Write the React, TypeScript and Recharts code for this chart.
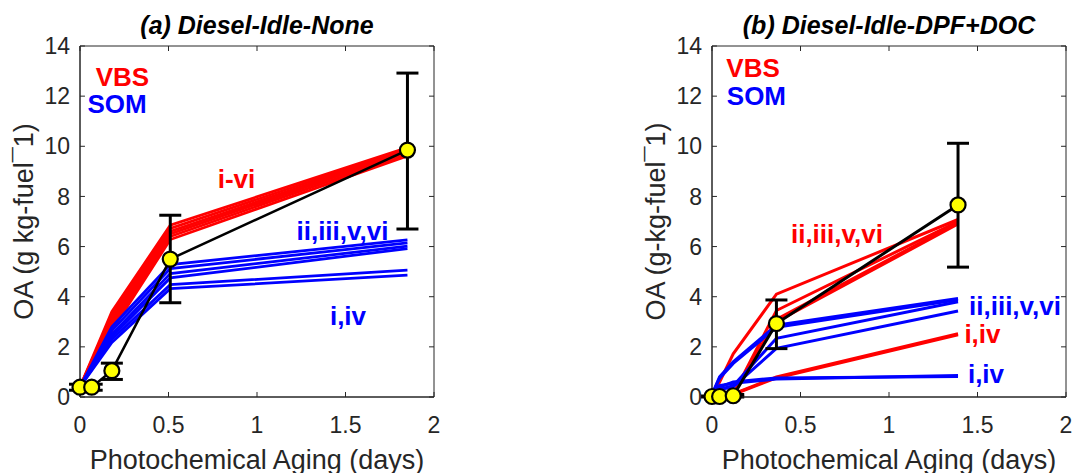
import React from "react";
import { LineChart, Line, XAxis, YAxis, ErrorBar, ReferenceDot, ReferenceArea, ReferenceLine } from "recharts";

// panel (a) Diesel-Idle-None
const modelXA = [0, 0.18, 0.51, 1.85];
const vbsA = [
  [0.4, 3.4, 6.85, 9.95],
  [0.4, 3.25, 6.72, 9.9],
  [0.4, 3.1, 6.6, 9.84],
  [0.4, 2.95, 6.5, 9.78],
  [0.4, 2.8, 6.4, 9.7],
  [0.4, 2.65, 6.28, 9.62],
];
const somA = [
  [0.4, 2.8, 5.28, 6.27],
  [0.4, 2.65, 5.12, 6.15],
  [0.4, 2.5, 4.92, 6.02],
  [0.4, 2.4, 4.75, 5.92],
  [0.4, 2.3, 4.48, 5.06],
  [0.4, 2.18, 4.32, 4.86],
];
const obsXA = [0, 0.066, 0.18, 0.51, 1.85];
const obsYA = [0.39, 0.39, 1.05, 5.5, 9.85];
const obsLoA = [0.27, 0.27, 0.7, 3.76, 6.7];
const obsHiA = [0.51, 0.51, 1.35, 7.25, 12.92];

// panel (b) Diesel-Idle-DPF+DOC
const modelXB = [0, 0.043, 0.12, 0.364, 1.39];
const vbsB = [
  [0.05, 0.6, 1.72, 4.1, 7.08],
  [0.05, 0.06, 0.1, 3.45, 7.0],
  [0.05, 0.06, 0.1, 3.1, 6.95],
  [0.05, 0.06, 0.08, 3.0, 6.9],
  [0.05, 0.06, 0.1, 0.76, 2.48],
  [0.05, 0.06, 0.12, 0.8, 2.52],
];
const somB = [
  [0.1, 0.8, 1.4, 2.86, 3.93],
  [0.1, 0.75, 1.34, 2.78, 3.88],
  [0.1, 0.3, 0.45, 2.34, 3.8],
  [0.1, 0.3, 0.4, 1.94, 3.43],
  [0.1, 0.45, 0.55, 0.72, 0.86],
  [0.1, 0.4, 0.6, 0.76, 0.82],
];
const obsXB = [0, 0.043, 0.12, 0.364, 1.39];
const obsYB = [0.02, 0.02, 0.05, 2.93, 7.66];
const obsLoB = [0.0, 0.0, 0.0, 1.93, 5.18];
const obsHiB = [0.04, 0.04, 0.1, 3.87, 10.12];

const xTicks = [0, 0.5, 1, 1.5, 2];
const yTicks = [0, 2, 4, 6, 8, 10, 12, 14];

const notesA = [
  { text: "VBS", x: 0.24, y: 12.77, color: "#ff0000" },
  { text: "SOM", x: 0.209, y: 11.7, color: "#0000ff" },
  { text: "i-vi", x: 0.884, y: 8.7, color: "#ff0000" },
  { text: "ii,iii,v,vi", x: 1.483, y: 6.63, color: "#0000ff" },
  { text: "i,iv", x: 1.514, y: 3.24, color: "#0000ff" },
];
const notesB = [
  { text: "VBS", x: 0.232, y: 13.13, color: "#ff0000" },
  { text: "SOM", x: 0.251, y: 12.01, color: "#0000ff" },
  { text: "ii,iii,v,vi", x: 0.706, y: 6.51, color: "#ff0000" },
  { text: "ii,iii,v,vi", x: 1.712, y: 3.64, color: "#0000ff" },
  { text: "i,iv", x: 1.528, y: 2.52, color: "#ff0000" },
  { text: "i,iv", x: 1.548, y: 0.93, color: "#0000ff" },
];

const AXIS = "#262626";
const X_MAX = 2;
const Y_MAX = 14;
// inward tick length, in data units (about 5px on each axis)
const TICK_DY = 0.2;
const TICK_DX = 0.028;

const pts = (xs: number[], ys: number[]) => xs.map((x, i) => ({ x, y: ys[i] }));
const obsPts = (xs: number[], ys: number[], lo: number[], hi: number[]) =>
  xs.map((x, i) => ({ x, y: ys[i], err: [ys[i] - lo[i], hi[i] - ys[i]] }));

function YLabel(props: any) {
  const vb = props.viewBox || { x: 0, y: 46, height: 351 };
  const cx = 23.5;
  const cy = vb.y + vb.height / 2;
  return (
    <text
      x={cx}
      y={cy}
      dy="0.36em"
      textAnchor="middle"
      fontSize={27}
      fill={AXIS}
      transform={`rotate(-90 ${cx} ${cy})`}
    >
      {props.text}
    </text>
  );
}

type PanelProps = {
  width: number;
  title: string;
  ylabel: string;
  modelX: number[];
  vbs: number[][];
  som: number[][];
  obs: { x: number; y: number; err: number[] }[];
  notes: { text: string; x: number; y: number; color: string }[];
  lw: number;
  blackW: number;
};

function Panel({ width, title, ylabel, modelX, vbs, som, obs, notes, lw, blackW }: PanelProps) {
  const tickSegs: { x: number; y: number }[][] = [];
  xTicks.forEach((t) => {
    tickSegs.push([{ x: t, y: 0 }, { x: t, y: TICK_DY }]);
    tickSegs.push([{ x: t, y: Y_MAX }, { x: t, y: Y_MAX - TICK_DY }]);
  });
  yTicks.forEach((t) => {
    tickSegs.push([{ x: 0, y: t }, { x: TICK_DX, y: t }]);
    tickSegs.push([{ x: X_MAX, y: t }, { x: X_MAX - TICK_DX, y: t }]);
  });

  return (
    <div style={{ position: "relative", width, height: 473 }}>
      <div
        style={{
          position: "absolute",
          left: 80,
          width: 354,
          top: 10,
          textAlign: "center",
          fontSize: 25,
          fontWeight: "bold",
          fontStyle: "italic",
          color: "#000",
          lineHeight: "30px",
          whiteSpace: "nowrap",
        }}
      >
        {title}
      </div>
      <LineChart width={width} height={473} margin={{ top: 46, right: width - 434, left: 0, bottom: 0 }}>
        <XAxis
          type="number"
          dataKey="x"
          domain={[0, X_MAX]}
          ticks={xTicks}
          height={76}
          stroke={AXIS}
          tickLine={false}
          tickSize={0}
          tickMargin={20}
          tick={{ fill: AXIS, fontSize: 23 }}
          label={{ value: "Photochemical Aging (days)", position: "insideBottom", offset: 4, fill: AXIS, fontSize: 27 }}
        />
        <YAxis
          type="number"
          domain={[0, Y_MAX]}
          ticks={yTicks}
          width={80}
          stroke={AXIS}
          tickLine={false}
          tickSize={0}
          tickMargin={10}
          tick={{ fill: AXIS, fontSize: 23 }}
          label={<YLabel text={ylabel} />}
        />
        <ReferenceArea
          x1={0}
          x2={X_MAX}
          y1={0}
          y2={Y_MAX}
          fill="none"
          fillOpacity={0}
          stroke={AXIS}
          strokeWidth={1}
          ifOverflow="visible"
        />
        {tickSegs.map((seg, i) => (
          <ReferenceLine key={`t${i}`} segment={seg} stroke={AXIS} strokeWidth={1} ifOverflow="visible" />
        ))}
        {vbs.map((ys, i) => (
          <Line
            key={`v${i}`}
            data={pts(modelX, ys)}
            dataKey="y"
            type="linear"
            stroke="#ff0000"
            strokeWidth={lw}
            dot={false}
            isAnimationActive={false}
          />
        ))}
        {som.map((ys, i) => (
          <Line
            key={`s${i}`}
            data={pts(modelX, ys)}
            dataKey="y"
            type="linear"
            stroke="#0000ff"
            strokeWidth={lw}
            dot={false}
            isAnimationActive={false}
          />
        ))}
        <Line
          data={obs}
          dataKey="y"
          type="linear"
          stroke="#000"
          strokeWidth={blackW}
          dot={{ r: 7.5, fill: "#ffff00", stroke: "#000", strokeWidth: 2.2 }}
          isAnimationActive={false}
        >
          <ErrorBar dataKey="err" direction="y" width={11} stroke="#000" strokeWidth={3} />
        </Line>
        {notes.map((n, i) => (
          <ReferenceDot
            key={`n${i}`}
            x={n.x}
            y={n.y}
            r={0}
            fill="none"
            stroke="none"
            ifOverflow="visible"
            label={{ value: n.text, position: "center", fill: n.color, fontSize: 26, fontWeight: "bold" }}
          />
        ))}
      </LineChart>
    </div>
  );
}

export default function App() {
  return (
    <div
      style={{
        position: "absolute",
        left: 0,
        top: 0,
        width: 1073,
        height: 473,
        overflow: "hidden",
        background: "#fff",
        fontFamily: "'Liberation Sans', Arial, sans-serif",
      }}
    >
      <div style={{ position: "absolute", left: 0, top: 0 }}>
        <Panel
          width={480}
          title="(a) Diesel-Idle-None"
          ylabel="OA (g kg-fuel¯1)"
          modelX={modelXA}
          vbs={vbsA}
          som={somA}
          obs={obsPts(obsXA, obsYA, obsLoA, obsHiA)}
          notes={notesA}
          lw={2.8}
          blackW={2.5}
        />
      </div>
      <div style={{ position: "absolute", left: 632, top: 0 }}>
        <Panel
          width={441}
          title="(b) Diesel-Idle-DPF+DOC"
          ylabel="OA (g-kg-fuel¯1)"
          modelX={modelXB}
          vbs={vbsB}
          som={somB}
          obs={obsPts(obsXB, obsYB, obsLoB, obsHiB)}
          notes={notesB}
          lw={3}
          blackW={3}
        />
      </div>
    </div>
  );
}
